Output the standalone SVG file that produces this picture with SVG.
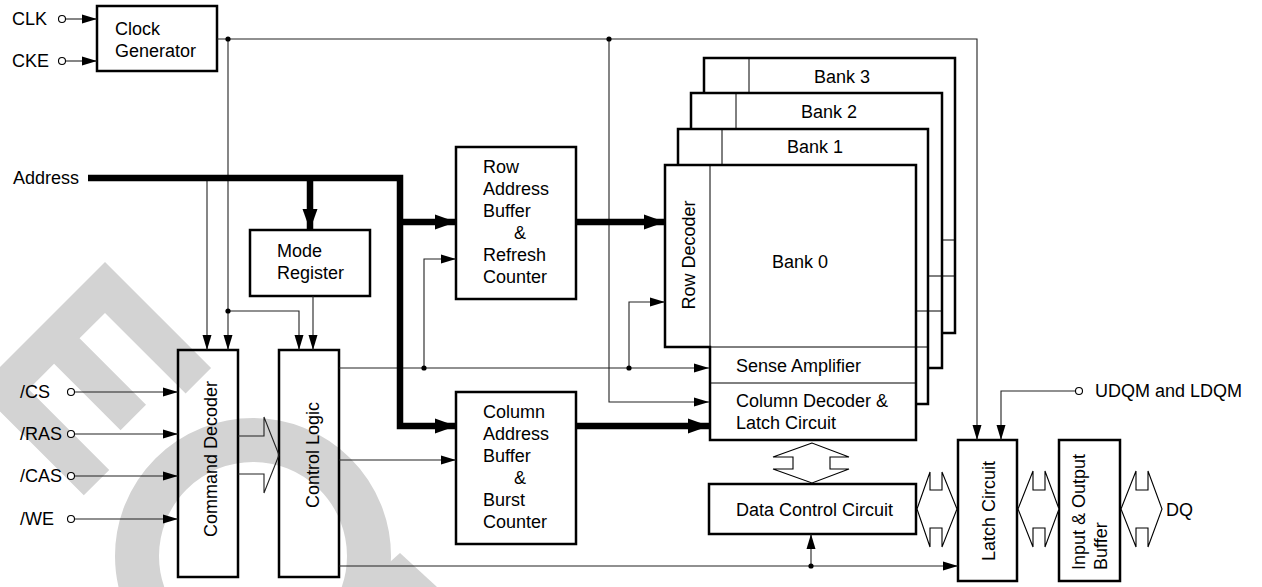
<svg xmlns="http://www.w3.org/2000/svg" width="1262" height="587" viewBox="0 0 1262 587">
<style>
text{font-family:"Liberation Sans",Arial,sans-serif;font-size:18px;fill:#000}
.box{fill:none;stroke:#000;stroke-width:2.5}
.bank{fill:#fff;stroke:#000;stroke-width:2.5}
.thin{fill:none;stroke:#000;stroke-width:1}
.w{fill:none;stroke:#222;stroke-width:1.1}
.thick{fill:none;stroke:#000;stroke-width:6.5}
.pin{fill:#fff;stroke:#000;stroke-width:1.1}
.dot{fill:#000}
.hol{fill:#fff;stroke:#000;stroke-width:1.1;stroke-linejoin:miter}
.wm{fill:#d3d3d3}
</style>
<defs>
<marker id="a" markerUnits="userSpaceOnUse" markerWidth="16" markerHeight="10" refX="15" refY="5" orient="auto"><path d="M0,0.5 L15,5 L0,9.5 z" fill="#000"/></marker>
<marker id="at" markerUnits="userSpaceOnUse" markerWidth="22" markerHeight="16" refX="21" refY="8" orient="auto"><path d="M0,0.5 L21,8 L0,15.5 z" fill="#000"/></marker>
</defs>

<g id="watermark">
<g transform="translate(105,262) rotate(45)">
<path class="wm" d="M0,0 H150 V36 H36 V72 H130 V108 H36 V144 H150 V180 H0 Z"/>
</g>
<circle cx="253" cy="556" r="116" fill="none" stroke="#d3d3d3" stroke-width="44"/>
<path class="wm" d="M400,553 L437,587 L362,587 Z"/>
</g>

<g id="clock-generator"><rect class="box" x="97" y="6" width="120" height="65"/><text x="115" y="35">Clock</text><text x="115" y="57">Generator</text></g>
<g id="mode-register"><rect class="box" x="250" y="230" width="120" height="66"/><text x="277" y="257">Mode</text><text x="277" y="279">Register</text></g>
<g id="command-decoder"><rect class="box" x="178" y="350" width="60" height="227"/><text x="216.5" y="459" text-anchor="middle" transform="rotate(-90 216.5 459)">Command Decoder</text></g>
<g id="control-logic"><rect class="box" x="279" y="350" width="60" height="227"/><text x="318.5" y="455" text-anchor="middle" transform="rotate(-90 318.5 455)">Control Logic</text></g>
<g id="row-address-buffer"><rect class="box" x="456" y="147" width="120" height="152"/><text x="483" y="173">Row</text><text x="483" y="195">Address</text><text x="483" y="217">Buffer</text><text x="514" y="239">&amp;</text><text x="483" y="261">Refresh</text><text x="483" y="283">Counter</text></g>
<g id="column-address-buffer"><rect class="box" x="456" y="392" width="120" height="152"/><text x="483" y="418">Column</text><text x="483" y="440">Address</text><text x="483" y="462">Buffer</text><text x="514" y="484">&amp;</text><text x="483" y="506">Burst</text><text x="483" y="528">Counter</text></g>

<g id="bank3"><path class="bank" d="M704,58 H955 V333 H749 V240 H704 Z"/><line class="thin" x1="749" y1="58" x2="749" y2="93"/><line class="thin" x1="942" y1="240" x2="955" y2="240"/><line class="thin" x1="942" y1="276" x2="955" y2="276"/><text x="842" y="83" text-anchor="middle">Bank 3</text></g>
<g id="bank2"><path class="bank" d="M691,93 H942 V368 H736 V276 H691 Z"/><line class="thin" x1="736" y1="93" x2="736" y2="129"/><line class="thin" x1="928" y1="276" x2="942" y2="276"/><line class="thin" x1="928" y1="311" x2="942" y2="311"/><text x="829" y="118" text-anchor="middle">Bank 2</text></g>
<g id="bank1"><path class="bank" d="M678,129 H928 V404 H722 V311 H678 Z"/><line class="thin" x1="722" y1="129" x2="722" y2="165"/><line class="thin" x1="916" y1="311" x2="928" y2="311"/><line class="thin" x1="916" y1="347" x2="928" y2="347"/><text x="815" y="153" text-anchor="middle">Bank 1</text></g>
<g id="bank0"><path class="bank" d="M665,165 H916 V440 H710 V347 H665 Z"/><line class="thin" x1="710" y1="165" x2="710" y2="347"/><line class="thin" x1="710" y1="347" x2="916" y2="347"/><line class="thin" x1="710" y1="383" x2="916" y2="383"/><text x="800" y="268" text-anchor="middle">Bank 0</text><text x="694.5" y="255" text-anchor="middle" transform="rotate(-90 694.5 255)">Row Decoder</text><text x="736" y="372">Sense Amplifier</text><text x="736" y="407">Column Decoder &amp;</text><text x="736" y="429">Latch Circuit</text></g>

<g id="data-control-circuit"><rect class="box" x="709" y="484" width="207" height="50"/><text x="736" y="516">Data Control Circuit</text></g>
<g id="latch-circuit"><rect class="box" x="958" y="440" width="59" height="141"/><text x="994.5" y="511" text-anchor="middle" transform="rotate(-90 994.5 511)">Latch Circuit</text></g>
<g id="io-buffer"><rect class="box" x="1059" y="440" width="61" height="141"/><text x="1085" y="570" transform="rotate(-90 1085 570)">Input &amp; Output</text><text x="1107" y="570" transform="rotate(-90 1107 570)">Buffer</text></g>

<g id="pins">
<text x="12" y="25">CLK</text><circle class="pin" cx="62" cy="19" r="3.5"/>
<text x="12" y="67">CKE</text><circle class="pin" cx="62" cy="61" r="3.5"/>
<text x="13" y="184">Address</text>
<text x="20" y="398">/CS</text><circle class="pin" cx="71" cy="392" r="3.5"/>
<text x="20" y="440">/RAS</text><circle class="pin" cx="71" cy="434" r="3.5"/>
<text x="20" y="482">/CAS</text><circle class="pin" cx="71" cy="476" r="3.5"/>
<text x="20" y="525">/WE</text><circle class="pin" cx="71" cy="519" r="3.5"/>
<circle class="pin" cx="1079" cy="391" r="3.5"/><text x="1095" y="397">UDQM and LDQM</text>
<text x="1166" y="516">DQ</text>
</g>

<g id="connectors">
<line class="w" x1="66" y1="19" x2="97" y2="19" marker-end="url(#a)"/>
<line class="w" x1="66" y1="61" x2="97" y2="61" marker-end="url(#a)"/>
<polyline class="w" points="217,39 977,39 977,440" marker-end="url(#a)"/>
<line class="w" x1="228" y1="39" x2="228" y2="350" marker-end="url(#a)"/>
<polyline class="w" points="228,311 299,311 299,350" marker-end="url(#a)"/>
<polyline class="w" points="609,39 609,402 709,402" marker-end="url(#a)"/>
<line class="w" x1="207" y1="178" x2="207" y2="350" marker-end="url(#a)"/>
<line class="w" x1="313" y1="296" x2="313" y2="350" marker-end="url(#a)"/>
<line class="w" x1="339" y1="368" x2="709" y2="368" marker-end="url(#a)"/>
<polyline class="w" points="424,368 424,259 456,259" marker-end="url(#a)"/>
<polyline class="w" points="629,368 629,302 665,302" marker-end="url(#a)"/>
<line class="w" x1="339" y1="460" x2="456" y2="460" marker-end="url(#a)"/>
<line class="w" x1="339" y1="566" x2="958" y2="566" marker-end="url(#a)"/>
<line class="w" x1="811" y1="566" x2="811" y2="534" marker-end="url(#a)"/>
<line class="w" x1="75" y1="392" x2="178" y2="392" marker-end="url(#a)"/>
<line class="w" x1="75" y1="434" x2="178" y2="434" marker-end="url(#a)"/>
<line class="w" x1="75" y1="476" x2="178" y2="476" marker-end="url(#a)"/>
<line class="w" x1="75" y1="519" x2="178" y2="519" marker-end="url(#a)"/>
<polyline class="w" points="1075,391 1001,391 1001,440" marker-end="url(#a)"/>
<path class="thick" d="M88,178 H400 V426 H456" marker-end="url(#at)"/>
<line class="thick" x1="400" y1="222" x2="456" y2="222" marker-end="url(#at)"/>
<line class="thick" x1="310" y1="178" x2="310" y2="230" marker-end="url(#at)"/>
<line class="thick" x1="576" y1="222" x2="665" y2="222" marker-end="url(#at)"/>
<line class="thick" x1="576" y1="426" x2="709" y2="426" marker-end="url(#at)"/>
<circle class="dot" cx="228" cy="39" r="2.6"/>
<circle class="dot" cx="609" cy="39" r="2.6"/>
<circle class="dot" cx="228" cy="311" r="2.6"/>
<circle class="dot" cx="424" cy="368" r="2.6"/>
<circle class="dot" cx="629" cy="368" r="2.6"/>
<circle class="dot" cx="811" cy="566" r="2.6"/>
<polyline class="w" points="238,436 264,436 264,417 279,455 264,493 264,474 238,474"/>
<polygon class="hol" points="812,443 773,457 793,457 793,469 773,469 812,483 849,469 830,469 830,457 849,457"/>
<polygon class="hol" points="917,509 930,472 930,490 942,490 942,472 957,509 942,547 942,528 930,528 930,547"/>
<polygon class="hol" points="1018,509 1033,471 1033,490 1045,490 1045,471 1059,509 1045,547 1045,528 1033,528 1033,547"/>
<polygon class="hol" points="1121,509 1136,471 1136,490 1148,490 1148,471 1162,509 1148,547 1148,528 1136,528 1136,547"/>
</g>
</svg>
